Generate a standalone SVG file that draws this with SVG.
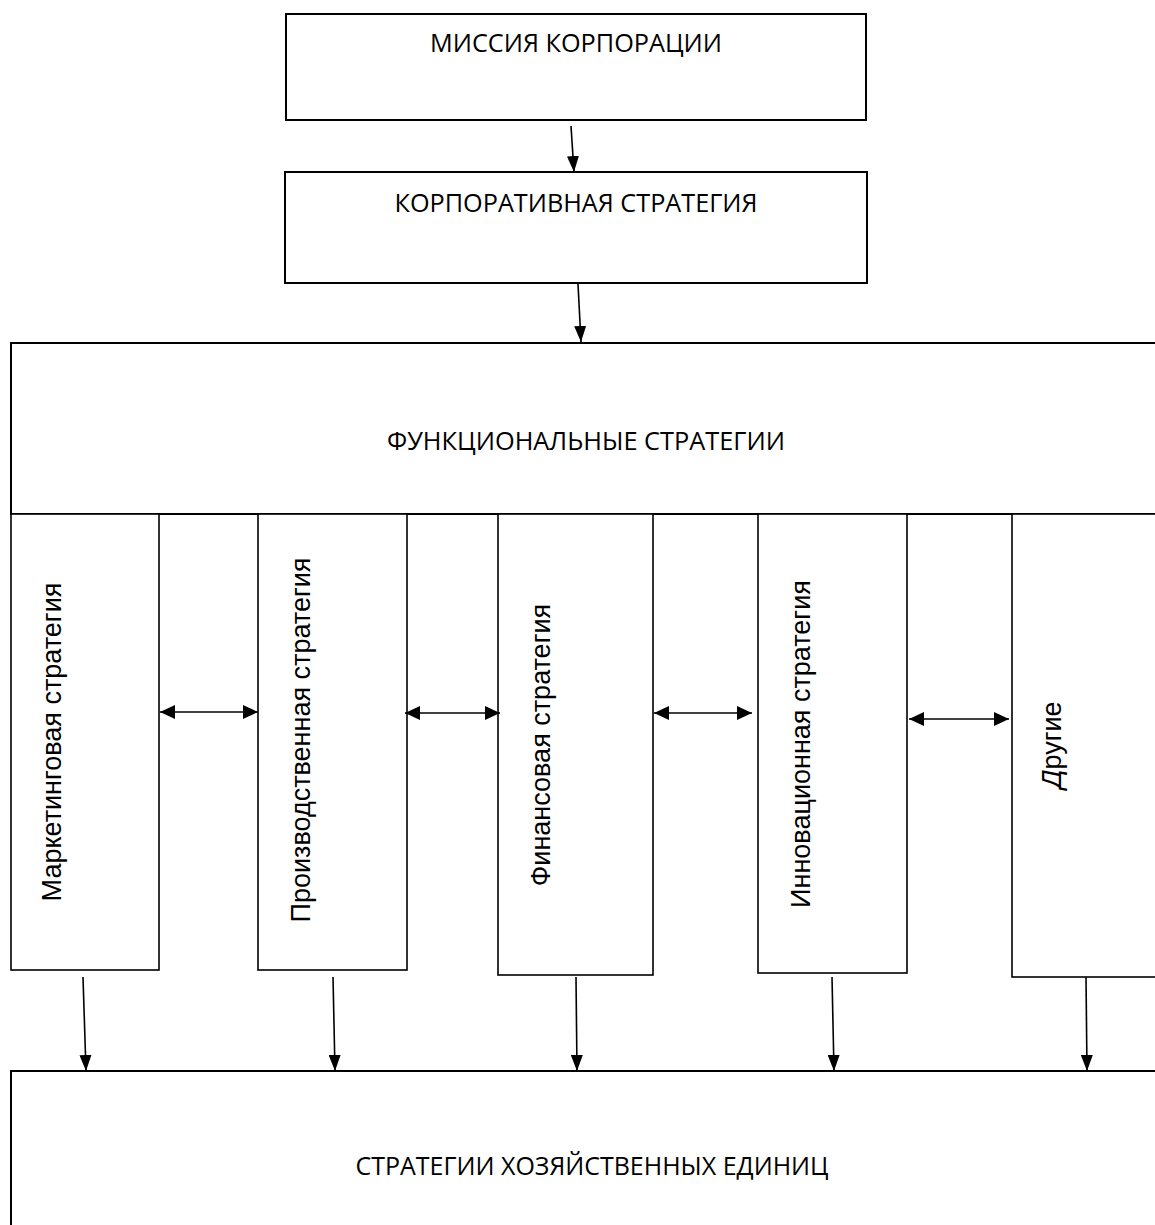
<svg xmlns="http://www.w3.org/2000/svg" width="1155" height="1225" viewBox="0 0 1155 1225">
  <style>
    .box { fill: #ffffff; stroke: #000000; stroke-width: 2; }
    .col { fill: #ffffff; stroke: #000000; stroke-width: 1.6; }
    .title { font-family: "Open Sans", "Noto Sans", sans-serif; font-size: 26px; fill: #000000; text-anchor: middle; }
    .vtext { font-family: "Liberation Sans", Arial, sans-serif; font-size: 27px; fill: #000000; text-anchor: middle; }
    .conn { stroke: #000000; stroke-width: 1.6; fill: none; }
  </style>
  <defs>
    <marker id="arrow" viewBox="0 0 16 12" refX="16" refY="6" markerWidth="16" markerHeight="12" markerUnits="userSpaceOnUse" orient="auto-start-reverse">
      <path d="M0,0 L16,6 L0,12 z" fill="#000000"/>
    </marker>
    <marker id="arrow2" viewBox="0 0 15 14" refX="15" refY="7" markerWidth="15" markerHeight="14" markerUnits="userSpaceOnUse" orient="auto-start-reverse">
      <path d="M0,0 L15,7 L0,14 z" fill="#000000"/>
    </marker>
  </defs>
  <rect width="1155" height="1225" fill="#ffffff"/>

  <g id="node-mission">
    <rect class="box" x="286" y="14" width="580" height="106"/>
    <text class="title" x="576" y="52" textLength="292" lengthAdjust="spacingAndGlyphs">МИССИЯ КОРПОРАЦИИ</text>
  </g>

  <g id="node-corporate">
    <rect class="box" x="285" y="172" width="582" height="111"/>
    <text class="title" x="576" y="212" textLength="363" lengthAdjust="spacingAndGlyphs">КОРПОРАТИВНАЯ СТРАТЕГИЯ</text>
  </g>

  <g id="node-functional">
    <rect class="box" x="11" y="343" width="1152" height="171" stroke-width="2.4"/>
    <text class="title" x="586" y="450" textLength="398" lengthAdjust="spacingAndGlyphs">ФУНКЦИОНАЛЬНЫЕ СТРАТЕГИИ</text>
  </g>

  <g id="node-marketing">
    <rect class="col" x="11" y="514" width="148" height="456"/>
    <text class="vtext" transform="translate(61,742) rotate(-90)">Маркетинговая стратегия</text>
  </g>

  <g id="node-production">
    <rect class="col" x="258" y="514" width="149" height="456"/>
    <text class="vtext" transform="translate(310,740) rotate(-90)">Производственная стратегия</text>
  </g>

  <g id="node-finance">
    <rect class="col" x="498" y="514" width="155" height="461"/>
    <text class="vtext" transform="translate(550,745) rotate(-90)">Финансовая стратегия</text>
  </g>

  <g id="node-innovation">
    <rect class="col" x="758" y="514" width="149" height="459"/>
    <text class="vtext" transform="translate(810,744) rotate(-90)">Инновационная стратегия</text>
  </g>

  <g id="node-other">
    <rect class="col" x="1012" y="514" width="150" height="463"/>
    <text class="vtext" transform="translate(1061,745) rotate(-90)"><tspan font-style="italic">Д</tspan>ругие</text>
  </g>

  <g id="node-business-units">
    <path class="box" d="M1160,1071 H11 V1230" fill="none"/>
    <text class="title" x="592" y="1175" textLength="473" lengthAdjust="spacingAndGlyphs">СТРАТЕГИИ ХОЗЯЙСТВЕННЫХ ЕДИНИЦ</text>
  </g>

  <g id="connectors">
    <line class="conn" x1="571" y1="126" x2="574" y2="172" marker-end="url(#arrow)"/>
    <line class="conn" x1="578" y1="284" x2="581" y2="342" marker-end="url(#arrow)"/>

    <line class="conn" x1="160" y1="712" x2="258" y2="712" stroke-width="2" marker-start="url(#arrow2)" marker-end="url(#arrow2)"/>
    <line class="conn" x1="405" y1="713" x2="500" y2="713" stroke-width="2" marker-start="url(#arrow2)" marker-end="url(#arrow2)"/>
    <line class="conn" x1="654" y1="713" x2="752" y2="713" stroke-width="2" marker-start="url(#arrow2)" marker-end="url(#arrow2)"/>
    <line class="conn" x1="909" y1="719" x2="1009" y2="719" stroke-width="2" marker-start="url(#arrow2)" marker-end="url(#arrow2)"/>

    <line class="conn" x1="83" y1="977" x2="86" y2="1071" marker-end="url(#arrow)"/>
    <line class="conn" x1="333" y1="977" x2="335" y2="1071" marker-end="url(#arrow)"/>
    <line class="conn" x1="576" y1="977" x2="577" y2="1071" marker-end="url(#arrow)"/>
    <line class="conn" x1="832" y1="977" x2="834" y2="1071" marker-end="url(#arrow)"/>
    <line class="conn" x1="1086" y1="977" x2="1087" y2="1071" marker-end="url(#arrow)"/>
  </g>
</svg>
